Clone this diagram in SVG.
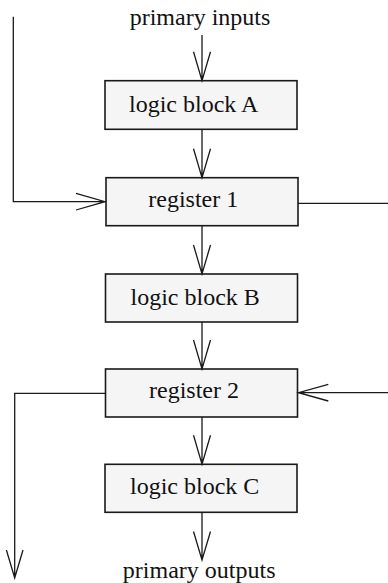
<svg xmlns="http://www.w3.org/2000/svg" width="388" height="583" viewBox="0 0 388 583">
<style>
.box{fill:#f5f5f5;stroke:#1a1a1a;stroke-width:1.6}
.t{font-family:"Liberation Serif","Times New Roman",serif;font-size:24px;fill:#111111}
.c{fill:none;stroke:#1a1a1a;stroke-width:1.3}
</style>
<rect width="388" height="583" fill="#ffffff"/>
<text class="t" x="200" y="25" text-anchor="middle">primary inputs</text>
<text class="t" x="199.2" y="577.5" text-anchor="middle">primary outputs</text>
<g id="logicA"><rect class="box" x="105" y="80.7" width="192" height="48.6"/><text class="t" x="129" y="111.7">logic block A</text></g>
<g id="register1"><rect class="box" x="106" y="177.7" width="192" height="48"/><text class="t" x="148.3" y="207.3">register 1</text></g>
<g id="logicB"><rect class="box" x="105.5" y="274" width="192" height="48"/><text class="t" x="130.5" y="305">logic block B</text></g>
<g id="register2"><rect class="box" x="105.5" y="369" width="192" height="48"/><text class="t" x="149" y="398.3">register 2</text></g>
<g id="logicC"><rect class="box" x="105" y="464.3" width="192" height="48"/><text class="t" x="130" y="494.3">logic block C</text></g>
<g id="connectors">
<path class="c" d="M202 35V80.7M193.5 51.7L202 80.7L210.5 51.7"/>
<path class="c" d="M202 129.3V177.7M193.5 148.7L202 177.7L210.5 148.7"/>
<path class="c" d="M13.3 16.7V201.7H106M76 193.4L105 201.7L76 210"/>
<path class="c" d="M298 203.3H388"/>
<path class="c" d="M202 225.7V274M193.5 245L202 274L210.5 245"/>
<path class="c" d="M202 322V369M193.5 340L202 369L210.5 340"/>
<path class="c" d="M388 392.7H297.5M328.3 384.4L298.5 392.7L328.3 401"/>
<path class="c" d="M105.5 393.3H14.7V578M6.4 550L14.7 578L23 550"/>
<path class="c" d="M202 417V464.3M193.5 435.3L202 464.3L210.5 435.3"/>
<path class="c" d="M202 512.3V560M193.5 531.5L202 560L210.5 531.5"/>
</g>
</svg>
